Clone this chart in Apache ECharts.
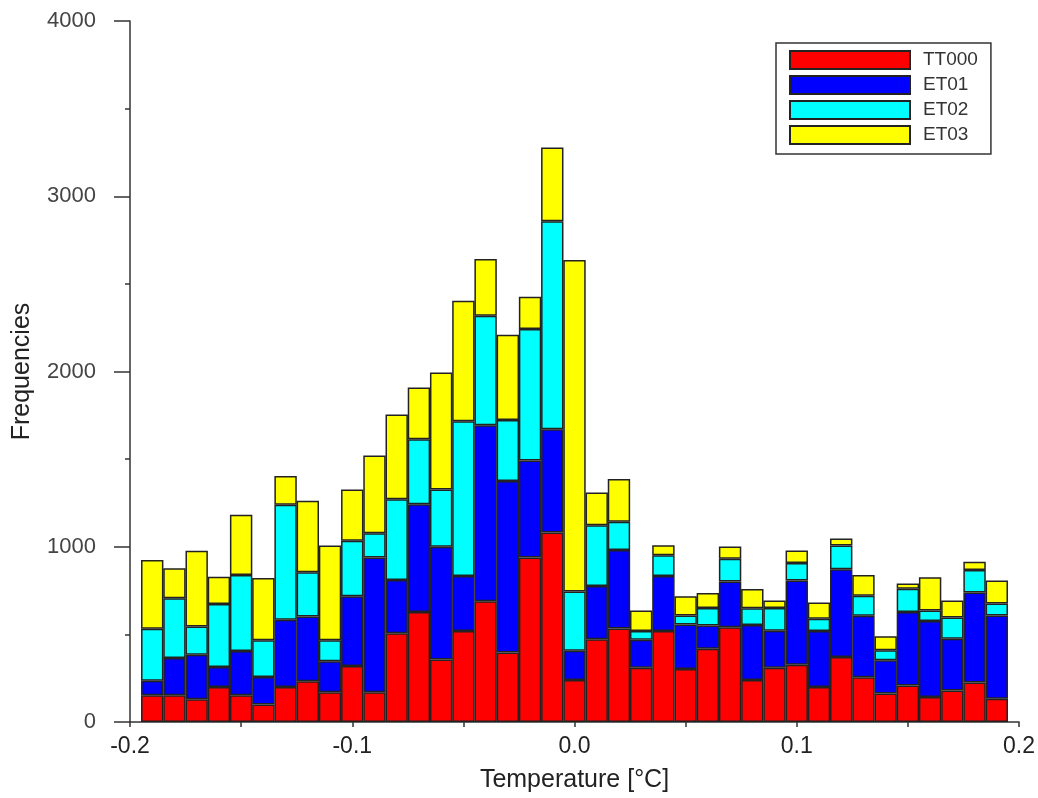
<!DOCTYPE html>
<html>
<head>
<meta charset="utf-8">
<script src="https://cdn.jsdelivr.net/npm/echarts@6/dist/echarts.min.js"></script>
<style>
  html, body { margin: 0; padding: 0; background: #fff; }
  #chart { width: 1038px; height: 798px; }
</style>
</head>
<body>
<div id="chart"></div>
<script>
// bin centres [°C]
const binCenters = [-0.19, -0.18, -0.17, -0.16, -0.15, -0.14, -0.13, -0.12, -0.11, -0.10,
  -0.09, -0.08, -0.07, -0.06, -0.05, -0.04, -0.03, -0.02, -0.01, 0.00,
  0.01, 0.02, 0.03, 0.04, 0.05, 0.06, 0.07, 0.08, 0.09, 0.10,
  0.11, 0.12, 0.13, 0.14, 0.15, 0.16, 0.17, 0.18, 0.19]

const seriesNames = ['TT000', 'ET01', 'ET02', 'ET03']

const tt000 = [153, 153, 130, 200, 153, 100, 200, 233, 170, 320,
  170, 506, 627, 356, 519, 689, 396, 939, 1081, 240,
  472, 534, 310, 519, 303, 418, 541, 240, 310, 327,
  200, 371, 256, 163, 208, 142, 180, 225, 132]
const et01 = [82, 212, 254, 114, 252, 157, 383, 369, 177, 398,
  769, 304, 615, 644, 314, 1004, 979, 553, 589, 167,
  304, 447, 159, 314, 254, 133, 260, 313, 211, 480,
  319, 500, 350, 189, 420, 435, 295, 514, 476]
const et02 = [297, 341, 161, 360, 434, 209, 657, 252, 119, 316,
  138, 461, 372, 327, 883, 625, 348, 750, 1188, 337,
  347, 161, 50, 119, 51, 100, 131, 96, 130, 100,
  70, 136, 115, 57, 133, 59, 122, 128, 68]
const et03 = [392, 171, 432, 155, 343, 356, 163, 409, 541, 292,
  444, 483, 295, 667, 687, 324, 487, 184, 420, 1892,
  187, 244, 117, 57, 110, 85, 70, 110, 42, 72,
  93, 40, 118, 81, 30, 190, 96, 48, 131]

const xTicks = [-0.2, -0.1, 0.0, 0.1, 0.2]
const yTicks = [0, 1000, 2000, 3000, 4000]

const colors = ['#ff0000', '#0000ff', '#00ffff', '#ffff00']
const font = "'Liberation Sans', Arial, sans-serif"

const chart = echarts.init(document.getElementById('chart'))

const seriesData = [tt000, et01, et02, et03]

chart.setOption({
  backgroundColor: '#fff',
  animation: false,
  grid: {
    left: 130,
    right: 13,
    top: 21,
    bottom: 73
  },
  legend: {
    orient: 'vertical',
    left: 776,
    top: 43,
    padding: [7, 13, 9, 13],
    itemWidth: 120,
    itemHeight: 18,
    itemGap: 5,
    icon: 'rect',
    borderColor: '#333',
    borderWidth: 1.5,
    backgroundColor: '#fff',
    data: seriesNames,
    textStyle: {
      fontFamily: font,
      fontSize: 19,
      color: '#333',
      padding: [0, 0, 0, 8]
    }
  },
  xAxis: {
    type: 'value',
    min: -0.2,
    max: 0.2,
    interval: 0.1,
    name: 'Temperature [°C]',
    nameLocation: 'middle',
    nameGap: 46,
    nameTextStyle: { fontFamily: font, fontSize: 25, color: '#222' },
    axisLine: { onZero: false, lineStyle: { color: '#333', width: 1.5 } },
    axisTick: { show: true, length: 5, lineStyle: { color: '#333', width: 1.5 } },
    minorTick: { show: true, splitNumber: 2, length: 5, lineStyle: { color: '#333', width: 1.5 } },
    splitLine: { show: false },
    axisLabel: {
      fontFamily: font,
      fontSize: 23,
      color: '#222',
      margin: 13,
      formatter: v => {
        const t = xTicks.find(x => Math.abs(x - v) < 1e-9)
        return t === undefined ? '' : t.toFixed(1)
      }
    }
  },
  yAxis: {
    type: 'value',
    min: 0,
    max: 4000,
    interval: 1000,
    name: 'Frequencies',
    nameLocation: 'middle',
    nameGap: 95,
    nameTextStyle: { fontFamily: font, fontSize: 25, color: '#222' },
    axisLine: { show: true, onZero: false, lineStyle: { color: '#333', width: 1.5 } },
    axisTick: { show: true, length: 16, lineStyle: { color: '#333', width: 1.5 } },
    minorTick: { show: true, splitNumber: 2, length: 5, lineStyle: { color: '#333', width: 1.5 } },
    splitLine: { show: false },
    axisLabel: {
      fontFamily: font,
      fontSize: 22,
      color: '#444',
      margin: 34,
      formatter: v => yTicks.includes(v) ? String(v) : ''
    }
  },
  // value first so the stack is taken on the frequency, not on the temperature
  series: seriesNames.map((name, i) => ({
    name: name,
    type: 'bar',
    stack: 'total',
    barWidth: 22.4,
    encode: { x: 1, y: 0 },
    itemStyle: {
      color: colors[i],
      borderColor: '#222',
      borderWidth: 1.5
    },
    data: binCenters.map((x, j) => [seriesData[i][j], x])
  }))
})
</script>
</body>
</html>
